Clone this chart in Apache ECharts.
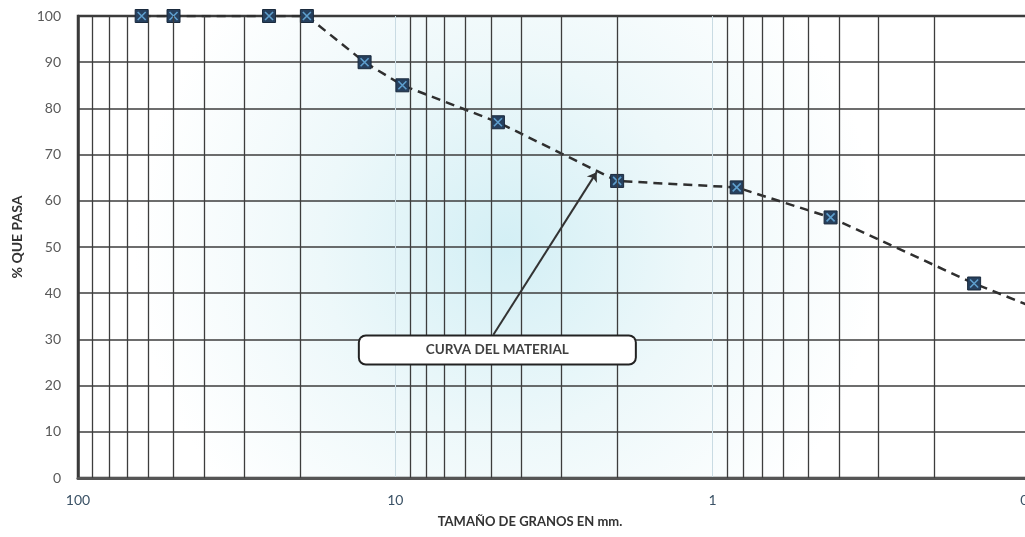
<!DOCTYPE html>
<html>
<head>
<meta charset="utf-8">
<script src="https://cdn.jsdelivr.net/npm/echarts@6/dist/echarts.min.js"></script>
<style>
  html, body { margin: 0; padding: 0; background: #fff; }
  #chart { width: 1025px; height: 537px; }
</style>
</head>
<body>
<div id="chart"></div>
<script>
// tamaños de tamiz (mm) y % que pasa
const sizes = [63, 50, 25, 19, 12.5, 9.5, 4.75, 2.0, 0.84, 0.425, 0.15, 0.075];
const passing = [100, 100, 100, 100, 90, 85, 77, 64.3, 62.9, 56.4, 42.1, 33.8];
// líneas menores de la escala logarítmica
const minorTicks = [90, 80, 70, 60, 50, 40, 30, 20, 9, 8, 7, 6, 5, 4, 3, 2, 0.9, 0.8, 0.7, 0.6, 0.5, 0.4, 0.3, 0.2];
const yTicks = { min: 0, max: 100, step: 10 };
const xRange = { min: 0.1, max: 100 };
const labelText = 'CURVA DEL MATERIAL';

const points = sizes.map((s, i) => [s, passing[i]]);

const chart = echarts.init(document.getElementById('chart'));
chart.setOption({
  animation: false,
  textStyle: { fontFamily: 'Lato, "Open Sans", sans-serif' },
  grid: {
    left: 78, top: 16, width: 952, height: 462,
    outerBoundsMode: 'none', containLabel: false,
    show: true, borderColor: '#3a3a3a', borderWidth: 2.5,
    backgroundColor: new echarts.graphic.RadialGradient(0.45, 0.5, 0.8, [
      { offset: 0, color: '#d3eff5' },
      { offset: 0.5, color: '#edf8fa' },
      { offset: 1, color: '#ffffff' }
    ])
  },
  xAxis: {
    type: 'log', logBase: 10, inverse: true,
    min: xRange.min, max: xRange.max,
    name: 'TAMAÑO DE GRANOS EN mm.', nameLocation: 'middle', nameGap: 37,
    nameTextStyle: { fontSize: 13, fontWeight: 'bold', color: '#333', padding: [0, 48, 0, 0] },
    axisLine: { show: true, lineStyle: { color: '#555', width: 3 } },
    axisTick: { show: false },
    axisLabel: { fontSize: 14, color: '#3b5266', margin: 15, formatter: v => String(v) },
    splitLine: { show: true, lineStyle: { color: '#c9dbe3', width: 1 } }
  },
  yAxis: {
    type: 'value', min: yTicks.min, max: yTicks.max, interval: yTicks.step,
    name: '% QUE PASA', nameLocation: 'middle', nameGap: 54,
    nameTextStyle: { fontSize: 14, fontWeight: 'bold', color: '#333', padding: [0, 0, 0, 20] },
    axisLine: { show: true, lineStyle: { color: '#3a3a3a', width: 2.5 } },
    axisTick: { show: false },
    axisLabel: { fontSize: 14, color: '#595959', margin: 17 },
    splitLine: { show: true, lineStyle: { color: '#3d3d3d', width: 1.5 } }
  },
  series: [
    {
      type: 'line', data: [], z: 1, silent: true,
      markLine: {
        silent: true, symbol: 'none', label: { show: false },
        lineStyle: { color: '#3d3d3d', width: 1.3, type: 'solid' },
        data: minorTicks.map(v => ({ xAxis: v }))
      }
    },
    {
      name: 'Curva', type: 'line', data: points, z: 3,
      symbol: 'rect', symbolSize: 13,
      itemStyle: { color: '#26405e', borderColor: '#1a2a3d', borderWidth: 1 },
      lineStyle: { color: '#2f2f2f', width: 2.5, type: [9, 6] },
      markLine: {
        silent: true, symbol: ['none', 'arrow'], symbolSize: 9,
        label: { show: false },
        lineStyle: { color: '#333', width: 2, type: 'solid' },
        data: [[{ coord: [4.91, 31] }, { coord: [2.32, 66.2] }]]
      },
      markPoint: {
        silent: true, symbol: 'rect', symbolSize: 1,
        itemStyle: { color: 'rgba(0,0,0,0)' },
        label: {
          show: true, position: 'inside', formatter: labelText,
          fontSize: 13.5, fontWeight: 'bold', color: '#404040',
          backgroundColor: '#fff', borderColor: '#222', borderWidth: 2, borderRadius: 6,
          width: 275, height: 27, lineHeight: 27, align: 'center', verticalAlign: 'middle'
        },
        data: [{ coord: [4.77, 27.7] }]
      }
    },
    {
      type: 'scatter', data: points, z: 4, silent: true,
      symbol: 'path://M0,0L10,10M10,0L0,10', symbolSize: 8,
      itemStyle: { color: 'none', borderColor: '#6db6ea', borderWidth: 1.6 }
    }
  ]
});
</script>
</body>
</html>
